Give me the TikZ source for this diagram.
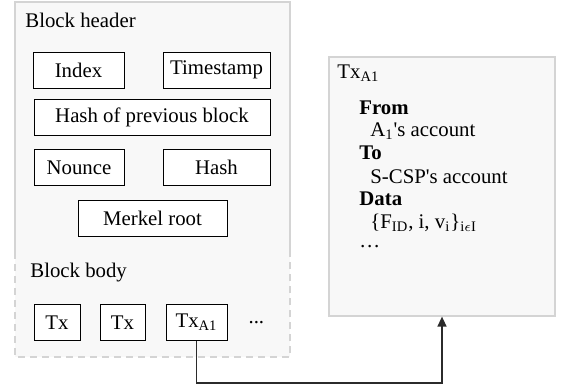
\documentclass[tikz,border=0pt]{standalone}
\usepackage{fontspec}
\setmainfont{Liberation Serif}
\usetikzlibrary{positioning,arrows.meta}
\definecolor{panelfill}{HTML}{F8F8F8}
\definecolor{panelline}{HTML}{D4D4D4}
\definecolor{linkline}{HTML}{2B2B2B}
\tikzset{
  field/.style={draw, fill=white, line width=0.5pt, inner sep=0pt, minimum height=18pt},
  caption/.style={anchor=west, inner sep=0pt},
  heading/.style={caption, font=\fontsize{10.4}{12}\selectfont\bfseries},
}
\begin{document}
\begin{tikzpicture}[x=0.5pt, y=-0.5pt, node distance=10pt,
    font=\fontsize{10.4}{12}\selectfont]
        \useasboundingbox (0,0) rectangle (561,388);
        % block panel: solid header, dashed body
        \fill[panelfill] (15,2) rectangle (290,357);
        \draw[panelline, line width=0.6pt] (15,252) -- (15,2) -- (290,2) -- (290,252);
        \draw[panelline, line width=0.6pt, dash pattern=on 3.5pt off 2.5pt] (15,252) -- (15,357) -- (290,357) -- (290,252);
        \node[caption] (header) at (25,20) {Block header};
        \node[caption] (body) at (30,273) {Block body};
        % header fields
        \node[field, minimum width=45.5pt] (index) at (78.5,70) {Index};
        \node[field, minimum width=53.5pt] (timestamp) at (216.5,70) {Timestamp};
        \node[field, minimum width=118pt] (prevhash) at (152,117.5) {Hash of previous block};
        \node[field, minimum width=45pt] (nounce) at (79,167.5) {Nounce};
        \node[field, minimum width=53.5pt] (hash) at (216.5,167.5) {Hash};
        \node[field, minimum width=74.5pt] (merkle) at (152.5,218) {Merkel root};
        % body transactions
        \node[field, minimum width=23pt] (txa) at (57,322.5) {Tx};
        \node[field, minimum width=22.5pt] (txb) at (122.5,322.5) {Tx};
        \node[field, minimum width=30.5pt] (txc) at (196.5,322.5) {Tx\textsubscript{A1}};
        \node[right = 7pt of txc] (more) {...};
        % transaction detail
        \node[draw=panelline, fill=panelfill, line width=0.6pt, minimum width=113pt, minimum height=129.5pt] (detail) at (442,186.5) {};
        \node[caption] (title) at (337,73) {Tx\textsubscript{A1}};
        \node[heading] (from) at (359,108) {From};
        \node[caption] (fromval) at (370,131) {A\textsubscript{1}\textquotesingle s account};
        \node[heading] (to) at (359,153) {To};
        \node[caption] (toval) at (370,177) {S-CSP\textquotesingle s account};
        \node[heading] (data) at (359,199) {Data};
        \node[caption] (dataval) at (370,223) {\{F\textsubscript{ID}, i, v\textsubscript{i}\}\textsubscript{i\(\epsilon\)I}};
        \node[caption] (dots) at (359,247) {\dots};
        \draw[linkline, line width=0.7pt, -{Triangle[length=5pt, width=4.5pt]}] (txc.south) -- ++(0,42) -| (detail.south);
    \end{tikzpicture}
\end{document}
